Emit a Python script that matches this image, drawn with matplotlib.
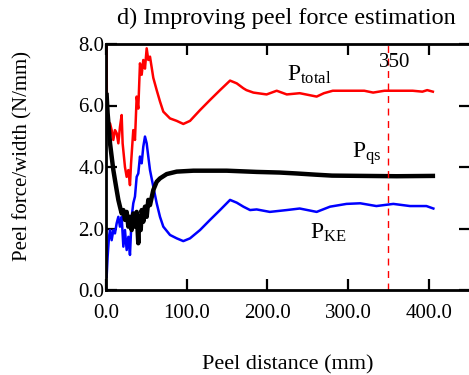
import matplotlib
matplotlib.use("Agg")
import matplotlib.pyplot as plt

plt.rcParams["font.family"] = ["Liberation Serif", "DejaVu Serif"]
plt.rcParams["mathtext.fontset"] = "custom"
plt.rcParams["mathtext.rm"] = "Liberation Serif"
plt.rcParams["mathtext.it"] = "Liberation Serif:italic"

# --- data ---
total_x = [0.0, 0.8, 1.0, 2.9, 5.0, 7.0, 9.1, 11.1, 13.2, 15.3, 17.3, 19.4, 20.6,
           23.5, 25.6, 27.7, 29.7, 31.0, 33.8, 35.9, 38.0, 40.0, 42.1, 44.2, 46.2,
           48.3, 50.4, 52.4, 54.5, 58.6, 62.8, 66.9, 71.0, 79.3, 87.6, 95.8, 104.1,
           116.5, 128.9, 141.3, 153.7, 162.0, 170.2, 174.0, 182.6, 199.0, 211.5,
           224.0, 240.0, 261.0, 270.0, 281.0, 300.0, 320.0, 331.0, 345.0, 360.0,
           380.0, 392.0, 398.0, 405.0]
total_y = [8.0, 7.9, 6.3, 5.42, 5.42, 5.2, 4.88, 5.2, 5.1, 4.77, 5.3, 5.69, 4.77,
           4.0, 3.68, 3.9, 3.41, 4.1, 5.2, 4.88, 6.29, 5.9, 7.37, 7.0, 7.48,
           7.2, 7.86, 7.48, 7.59, 6.9, 6.5, 6.13, 5.8, 5.58, 5.5, 5.4, 5.5,
           5.85, 6.18, 6.5, 6.81, 6.72, 6.56, 6.5, 6.42, 6.36, 6.48,
           6.36, 6.4, 6.29, 6.4, 6.48, 6.48, 6.48, 6.42, 6.48, 6.48,
           6.48, 6.45, 6.5, 6.45]

ke_x = [0.8, 2.0, 3.7, 5.0, 7.0, 9.1, 11.1, 13.2, 15.3, 17.3, 19.4, 21.5, 23.5,
        25.6, 27.7, 29.7, 31.8, 33.8, 35.9, 38.0, 40.0, 42.1, 44.2, 46.2, 48.3,
        50.4, 52.4, 54.5, 58.6, 62.8, 66.9, 71.0, 79.3, 87.6, 95.8, 104.1, 116.5,
        128.9, 141.3, 153.7, 162.0, 170.2, 178.5, 186.7, 203.0, 224.0, 240.0,
        261.0, 277.6, 298.0, 315.0, 335.0, 356.0, 376.7, 397.0, 405.6]
ke_y = [0.43, 1.08, 1.73, 1.95, 1.62, 1.95, 1.84, 2.17, 2.38, 2.06, 2.38, 1.41, 1.95,
        1.30, 1.73, 1.14, 2.38, 2.82, 3.04, 3.68, 3.79, 4.34, 4.12, 4.66, 4.99,
        4.77, 4.34, 3.90, 3.36, 2.82, 2.38, 2.06, 1.79, 1.68, 1.59, 1.68, 1.95,
        2.28, 2.60, 2.93, 2.84, 2.71, 2.60, 2.62, 2.54, 2.60, 2.65,
        2.54, 2.71, 2.80, 2.82, 2.73, 2.80, 2.73, 2.73, 2.65]

qs_x = [0.8, 2.0, 3.7, 5.0, 7.0, 9.1, 11.1, 13.2, 15.3, 17.3, 19.4, 21.5, 23.5,
        25.6, 27.7, 29.7, 31.8, 33.8, 35.9, 38.0, 40.0, 41.3, 43.0, 44.2, 46.2,
        48.3, 50.4, 52.4, 54.5, 58.6, 62.8, 66.9, 75.2, 87.6, 108.3, 149.6, 186.7,
        215.0, 236.0, 260.0, 280.0, 320.0, 360.0, 405.0]
qs_y = [6.34, 5.75, 5.20, 4.77, 4.34, 3.90, 3.58, 3.25, 2.93, 2.71, 2.49, 2.60, 2.28,
        2.54, 2.06, 2.38, 1.95, 2.49, 2.06, 2.54, 1.52, 2.38, 1.95, 2.60, 2.22,
        2.71, 2.38, 2.93, 2.76, 3.25, 3.52, 3.63, 3.77, 3.85, 3.88, 3.88, 3.84,
        3.82, 3.79, 3.75, 3.72, 3.71, 3.70, 3.71]

x_ticks = [0, 100, 200, 300, 400]
y_ticks = [0, 2, 4, 6, 8]
marker_x = 350

fig = plt.figure(figsize=(4.69, 3.75), dpi=100)
ax = fig.add_axes([106 / 469, 85 / 375, 364 / 469, 246 / 375])

ax.plot(total_x, total_y, color="#ff0000", lw=1.8)
ax.plot(ke_x, ke_y, color="#0000ff", lw=1.8)
ax.plot(qs_x, qs_y, color="black", lw=3.2)
ax.axvline(marker_x, color="#ff0000", lw=1.0, ls=(0, (5, 4)))

ax.set_xlim(0, 451)
ax.set_ylim(0, 8)
ax.set_xticks(x_ticks)
ax.set_xticklabels([f"{v:.1f}" for v in x_ticks])
ax.set_yticks(y_ticks)
ax.set_yticklabels([f"{v:.1f}" for v in y_ticks])
ax.tick_params(direction="in", length=8, width=1.6, labelsize=15,
               top=True, right=True)
ax.tick_params(axis="x", pad=10)
ax.tick_params(axis="y", pad=1)
for s in ax.spines.values():
    s.set_linewidth(2)

ax.text(224, 7.0, r"P$_{\rm total}$", fontsize=17, va="center")
ax.text(305, 4.45, r"P$_{\rm qs}$", fontsize=17, va="center")
ax.text(253, 1.85, r"P$_{\rm KE}$", fontsize=17, va="center")
ax.text(357, 7.4, "350", fontsize=15, ha="center", va="center")

ax.set_xlabel("Peel distance (mm)", fontsize=16, labelpad=23)
fig.text(23 / 469, 1 - 156 / 375, "Peel force/width (N/mm)", fontsize=15,
         rotation=90, ha="center", va="center")
fig.text(286 / 469, 1 - 18 / 375, "d) Improving peel force estimation",
         fontsize=17.5, ha="center", va="center")

fig.savefig("out.png", dpi=100)
